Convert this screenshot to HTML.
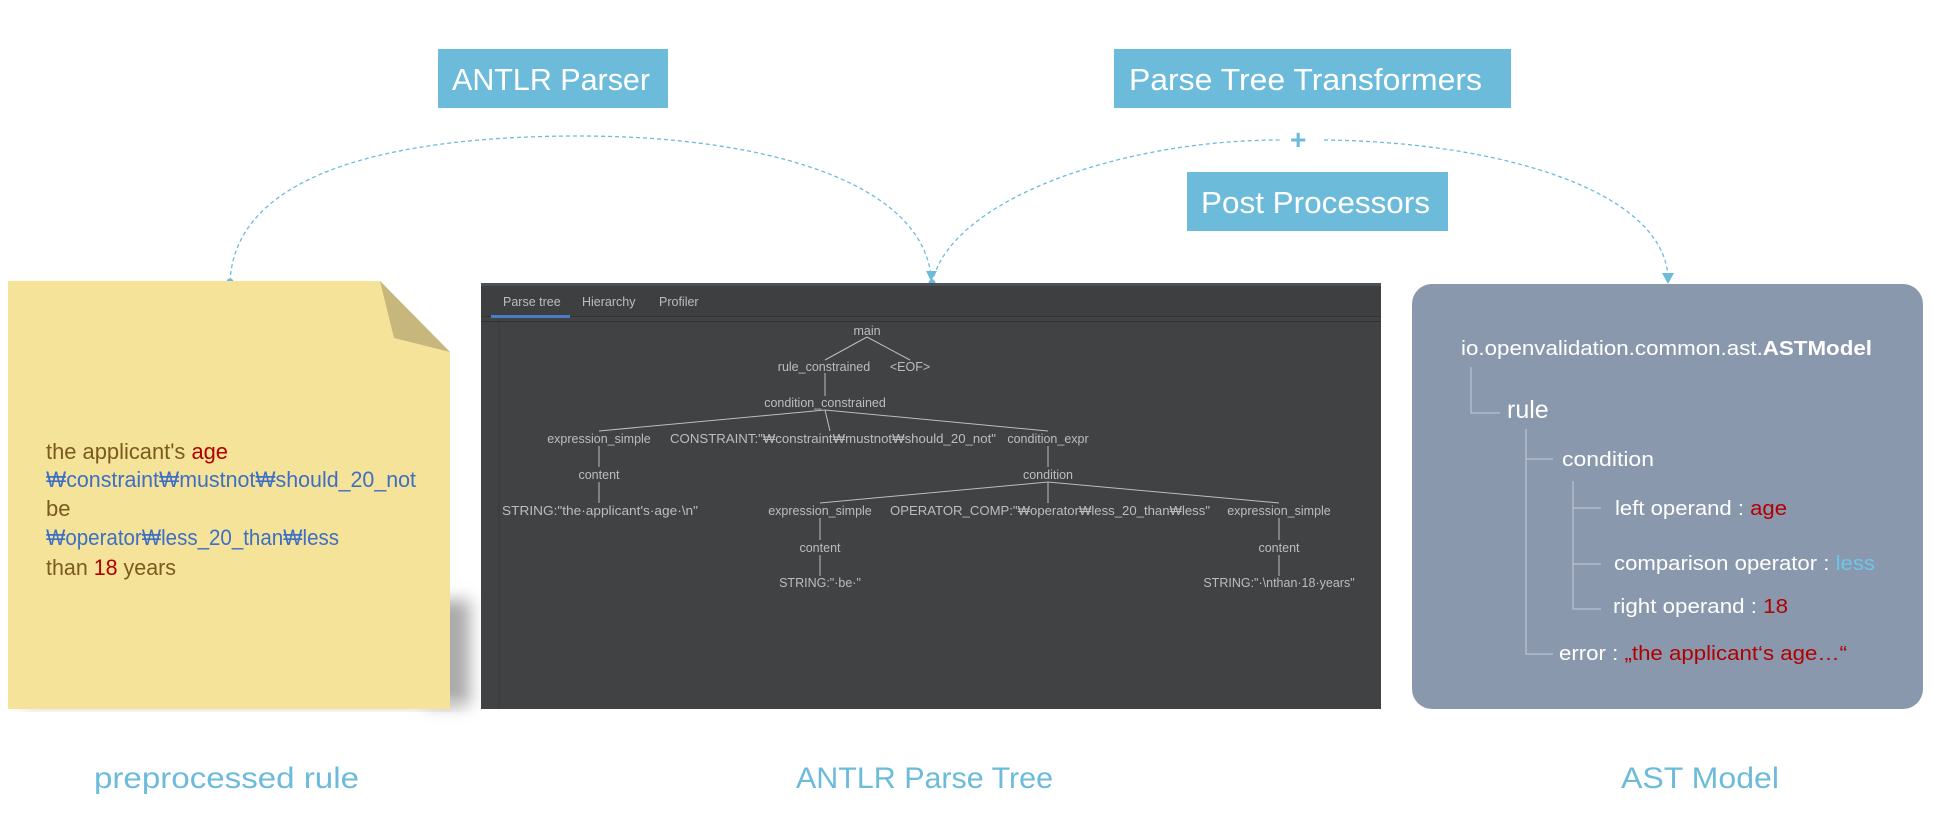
<!DOCTYPE html>
<html><head><meta charset="utf-8"><style>
html,body{margin:0;padding:0;background:#fff;}
svg{display:block;}
.c{font-family:"Liberation Sans",sans-serif;}
.t{font-family:"Liberation Sans",sans-serif;font-size:12.5px;fill:#bdbdbd;}
</style></head><body>
<svg width="1942" height="836" viewBox="0 0 1942 836" xmlns="http://www.w3.org/2000/svg">
<defs>
<filter id="blur" x="-50%" y="-50%" width="200%" height="200%"><feGaussianBlur stdDeviation="8"/></filter>
</defs>
<rect x="438" y="49" width="230" height="59" fill="#6cbbdb"/>
<text class="c" x="452" y="90" font-size="31" fill="#fff" textLength="198" lengthAdjust="spacingAndGlyphs">ANTLR Parser</text>
<rect x="1114" y="49" width="397" height="59" fill="#6cbbdb"/>
<text class="c" x="1129" y="90" font-size="31" fill="#fff" textLength="353" lengthAdjust="spacingAndGlyphs">Parse Tree Transformers</text>
<text class="c" x="1290" y="149" font-size="28" font-weight="bold" fill="#6cbbdb">+</text>
<rect x="1187" y="172" width="261" height="59" fill="#6cbbdb"/>
<text class="c" x="1201" y="213" font-size="31" fill="#fff" textLength="229" lengthAdjust="spacingAndGlyphs">Post Processors</text>

<path d="M230,282 C235,170 400,136 579,136 C760,136 920,180 931,276" fill="none" stroke="#6cbbdb" stroke-width="1.3" stroke-dasharray="4,3"/>
<path d="M932,283 C950,200 1120,140 1280,140" fill="none" stroke="#6cbbdb" stroke-width="1.3" stroke-dasharray="4,3"/>
<path d="M1324,140 C1500,142 1660,190 1668,275" fill="none" stroke="#6cbbdb" stroke-width="1.3" stroke-dasharray="4,3"/>
<circle cx="230" cy="282" r="3.5" fill="#6cbbdb"/>
<circle cx="932" cy="283" r="3.5" fill="#6cbbdb"/>
<polygon points="926,271 937,271 931,281" fill="#6cbbdb"/>
<polygon points="1662,273 1674,273 1668,284" fill="#6cbbdb"/>

<rect x="425" y="600" width="45" height="105" fill="#aaa" filter="url(#blur)"/>
<rect x="20" y="700" width="440" height="8" fill="#ccc" filter="url(#blur)"/>
<polygon points="8,281 380,281 450,352 450,709 8,709" fill="#f5e39a"/>
<polygon points="380,281 394,338 450,352" fill="#c8b77d"/>
<g class="c" font-size="22">
<text x="46" y="459" fill="#7a5a1e" textLength="182" lengthAdjust="spacingAndGlyphs">the applicant's <tspan fill="#b00000">age</tspan></text>
<text x="46" y="487" fill="#3d6fc4" textLength="370" lengthAdjust="spacingAndGlyphs">₩constraint₩mustnot₩should_20_not</text>
<text x="46" y="516" fill="#7a5a1e">be</text>
<text x="46" y="545" fill="#3d6fc4" textLength="293" lengthAdjust="spacingAndGlyphs">₩operator₩less_20_than₩less</text>
<text x="46" y="575" fill="#7a5a1e" textLength="130" lengthAdjust="spacingAndGlyphs">than <tspan fill="#b00000">18</tspan> years</text>
</g>

<rect x="481" y="283" width="900" height="426" fill="#414244"/>
<rect x="481" y="283" width="900" height="3" fill="#4c5058"/>
<rect x="481" y="286" width="900" height="30" fill="#3e3f41"/>
<rect x="481" y="316" width="900" height="1" fill="#333"/>
<rect x="481" y="321" width="900" height="1" fill="#333"/>
<rect x="491" y="315" width="79" height="3" fill="#4a7cc7"/>
<line x1="499" y1="322" x2="499" y2="709" stroke="#38393b" stroke-width="1"/>
<text class="t" x="503" y="306" font-size="11">Parse tree</text>
<text class="t" x="582" y="306" font-size="11">Hierarchy</text>
<text class="t" x="659" y="306" font-size="11">Profiler</text>

<g stroke="#bdbdbd" stroke-width="1" fill="none">
<line x1="867" y1="337" x2="825" y2="360"/>
<line x1="867" y1="337" x2="910" y2="360"/>
<line x1="825" y1="373" x2="825" y2="396"/>
<line x1="825" y1="410" x2="599" y2="431"/>
<line x1="825" y1="410" x2="830" y2="431"/>
<line x1="825" y1="410" x2="1048" y2="431"/>
<line x1="599" y1="446" x2="599" y2="467"/>
<line x1="599" y1="482" x2="599" y2="503"/>
<line x1="1048" y1="446" x2="1048" y2="467"/>
<line x1="1048" y1="482" x2="820" y2="503"/>
<line x1="1048" y1="482" x2="1048" y2="503"/>
<line x1="1048" y1="482" x2="1279" y2="503"/>
<line x1="820" y1="518" x2="820" y2="540"/>
<line x1="820" y1="555" x2="820" y2="576"/>
<line x1="1279" y1="518" x2="1279" y2="540"/>
<line x1="1279" y1="555" x2="1279" y2="576"/>
</g>
<g class="t" text-anchor="middle">
<text x="867" y="335">main</text>
<text x="824" y="371">rule_constrained</text>
<text x="910" y="371">&lt;EOF&gt;</text>
<text x="825" y="407">condition_constrained</text>
<text x="599" y="443">expression_simple</text>
<text x="1048" y="443">condition_expr</text>
<text x="599" y="479">content</text>
<text x="1048" y="479">condition</text>
<text x="820" y="515">expression_simple</text>
<text x="1279" y="515">expression_simple</text>
<text x="820" y="552">content</text>
<text x="1279" y="552">content</text>
<text x="820" y="587">STRING:"·be·"</text>
<text x="1279" y="587">STRING:"·\nthan·18·years"</text>
</g>
<g class="t">
<text x="670" y="443" textLength="326" lengthAdjust="spacingAndGlyphs">CONSTRAINT:"₩constraint₩mustnot₩should_20_not"</text>
<text x="502" y="515" textLength="196" lengthAdjust="spacingAndGlyphs">STRING:"the·applicant's·age·\n"</text>
<text x="890" y="515" textLength="320" lengthAdjust="spacingAndGlyphs">OPERATOR_COMP:"₩operator₩less_20_than₩less"</text>
</g>

<rect x="1412" y="284" width="511" height="425" rx="20" fill="#8a98ae"/>
<g stroke="#c5ccd8" stroke-width="1" fill="none">
<polyline points="1471,367 1471,413 1500,413"/>
<polyline points="1526,429 1526,654 1553,654"/>
<line x1="1526" y1="459" x2="1553" y2="459"/>
<polyline points="1573,481 1573,609 1601,609"/>
<line x1="1573" y1="508" x2="1601" y2="508"/>
<line x1="1573" y1="564" x2="1601" y2="564"/>
</g>
<g class="c" fill="#fff" font-size="20">
<text x="1461" y="355" textLength="411" lengthAdjust="spacingAndGlyphs">io.openvalidation.common.ast.<tspan font-weight="bold">ASTModel</tspan></text>
<text x="1507" y="418" font-size="25">rule</text>
<text x="1562" y="466" textLength="92" lengthAdjust="spacingAndGlyphs">condition</text>
<text x="1615" y="515" textLength="172" lengthAdjust="spacingAndGlyphs">left operand : <tspan fill="#b00000">age</tspan></text>
<text x="1614" y="570" textLength="261" lengthAdjust="spacingAndGlyphs">comparison operator : <tspan fill="#6cc6e8">less</tspan></text>
<text x="1613" y="613" textLength="175" lengthAdjust="spacingAndGlyphs">right operand : <tspan fill="#b00000">18</tspan></text>
<text x="1559" y="660" textLength="288" lengthAdjust="spacingAndGlyphs">error : <tspan fill="#b00000">„the applicant‘s age…“</tspan></text>
</g>

<g class="c" font-size="30" fill="#6cbbdb">
<text x="94" y="788" textLength="265" lengthAdjust="spacingAndGlyphs">preprocessed rule</text>
<text x="796" y="788" textLength="257" lengthAdjust="spacingAndGlyphs">ANTLR Parse Tree</text>
<text x="1621" y="788" textLength="158" lengthAdjust="spacingAndGlyphs">AST Model</text>
</g>
</svg>
</body></html>
